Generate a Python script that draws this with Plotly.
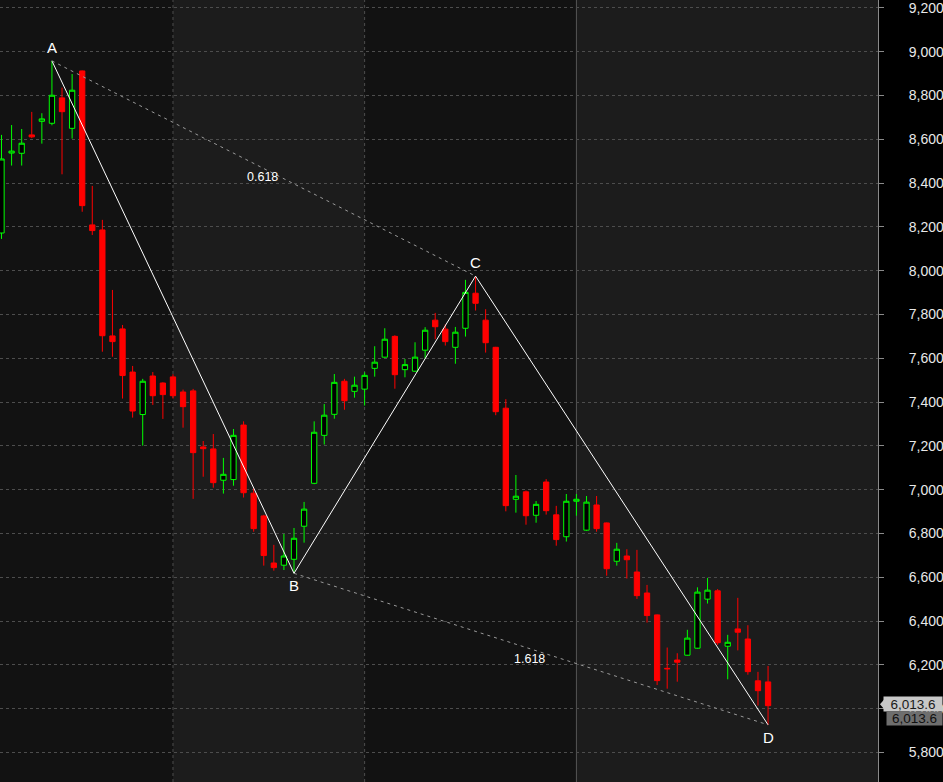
import plotly.graph_objects as go

# ---- data ----
opens = [8172, 8537, 8536, 8620, 8682, 8673, 8789, 8650, 8912, 8209,
         8186, 7702, 7734, 7537, 7343, 7519, 7487, 7515, 7446, 7451,
         7195, 7186, 7043, 7046, 7295, 6984, 6880, 6665, 6655, 6682,
         6833, 7029, 7248, 7344, 7495, 7449, 7459, 7554, 7605, 7700,
         7548, 7541, 7637, 7774, 7733, 7650, 7737, 7897, 7774, 7650,
         7372, 6956, 6990, 6883, 7035, 6885, 6785, 6947, 6815, 6930,
         6848, 6673, 6697, 6624, 6528, 6428, 6184, 6222, 6244, 6276,
         6500, 6538, 6285, 6364, 6318, 6127, 6122]
highs = [8620, 8665, 8647, 8725, 8719, 8958, 8836, 8898, 8914, 8387,
         8232, 7912, 7752, 7565, 7506, 7537, 7490, 7527, 7457, 7460,
         7222, 7254, 7145, 7277, 7312, 7005, 6885, 6748, 6798, 6825,
         6944, 7312, 7391, 7528, 7506, 7516, 7536, 7655, 7737, 7705,
         7597, 7673, 7742, 7807, 7755, 7743, 7958, 7975, 7824, 7652,
         7413, 7067, 6996, 6948, 7048, 6926, 6980, 6980, 6971, 6971,
         6850, 6757, 6728, 6725, 6565, 6430, 6279, 6253, 6360, 6554,
         6597, 6546, 6337, 6506, 6381, 6168, 6195]
lows = [8145, 8480, 8480, 8605, 8580, 8664, 8440, 8603, 8269, 8163,
        7630, 7607, 7416, 7329, 7201, 7387, 7323, 7416, 7283, 6958,
        7059, 7009, 6982, 7018, 6964, 6808, 6653, 6630, 6633, 6618,
        6758, 7025, 7206, 7324, 7365, 7420, 7384, 7516, 7603, 7461,
        7513, 7538, 7598, 7687, 7658, 7575, 7699, 7818, 7626, 7340,
        6901, 6895, 6840, 6849, 6886, 6744, 6763, 6881, 6812, 6808,
        6607, 6653, 6594, 6501, 6393, 6108, 6091, 6123, 6242, 6274,
        6480, 6291, 6134, 6266, 6155, 6014, 5926]
closes = [8510, 8546, 8582, 8611, 8693, 8801, 8726, 8824, 8297, 8183,
          7703, 7676, 7521, 7359, 7495, 7429, 7434, 7429, 7379, 7169,
          7187, 7032, 7070, 7248, 6986, 6822, 6699, 6644, 6697, 6778,
          6911, 7262, 7340, 7490, 7406, 7477, 7522, 7582, 7687, 7525,
          7571, 7605, 7728, 7744, 7676, 7719, 7901, 7851, 7671, 7356,
          6927, 6970, 6881, 6933, 6904, 6772, 6947, 6956, 6943, 6822,
          6639, 6728, 6680, 6516, 6425, 6128, 6182, 6212, 6322, 6532,
          6541, 6301, 6303, 6349, 6169, 6082, 6013.6]

pattern_names = ["A", "B", "C", "D"]
pattern_idx = [5, 29, 47, 76]
pattern_kind = ["high", "low", "high", "low"]
fib_labels = ["0.618", "1.618"]
period_starts = [17, 36, 57]
y_ticks = list(range(5800, 9201, 200))

# ---- styling ----
BULL = "#00ff00"
BEAR = "#ff0000"
DARK_BAND = "#121212"
LIGHT_BAND = "#1c1c1c"
GRID = "#4d4d4d"
FONT = "Liberation Sans, Arial, sans-serif"

n = len(closes)
xs = list(range(n))
x_range = [-0.149, 86.9]
y_range = [5665, 9236]

fig = go.Figure()

fig.add_trace(go.Candlestick(
    x=xs, open=opens, high=highs, low=lows, close=closes,
    increasing=dict(line=dict(color=BULL, width=1), fillcolor="#000000"),
    decreasing=dict(line=dict(color=BEAR, width=1), fillcolor=BEAR),
    whiskerwidth=0, showlegend=False, hoverinfo="skip",
))

# pattern points
px_ = [pattern_idx[i] for i in range(4)]
py_ = [highs[pattern_idx[i]] if pattern_kind[i] == "high" else lows[pattern_idx[i]]
       for i in range(4)]

# solid zig-zag A-B-C-D
fig.add_trace(go.Scatter(x=px_, y=py_, mode="lines",
                         line=dict(color="#ffffff", width=1),
                         showlegend=False, hoverinfo="skip"))
# dotted A-C and B-D
for a, b in [(0, 2), (1, 3)]:
    fig.add_trace(go.Scatter(x=[px_[a], px_[b]], y=[py_[a], py_[b]], mode="lines",
                             line=dict(color="#9a9a9a", width=1, dash="3px,4px"),
                             showlegend=False, hoverinfo="skip"))

# letter labels
shifts = [13, -12, 14, -13]
for i in range(4):
    fig.add_annotation(x=px_[i], y=py_[i], text=pattern_names[i], showarrow=False,
                       yshift=shifts[i], font=dict(family=FONT, size=15, color="#ffffff"),
                       xanchor="center", yanchor="middle")

# fib ratio labels at the midpoints of the dotted lines
for lab, (a, b), ys in zip(fib_labels, [(0, 2), (1, 3)], [-8, -10]):
    fig.add_annotation(x=(px_[a] + px_[b]) / 2 - 0.15, y=(py_[a] + py_[b]) / 2, text=lab,
                       showarrow=False, yshift=ys,
                       font=dict(family=FONT, size=12.5, color="#ffffff"),
                       xanchor="center", yanchor="middle")

# background bands
bounds = [x_range[0]] + period_starts + [x_range[1]]
shapes = []
for k in range(len(bounds) - 1):
    shapes.append(dict(type="rect", xref="x", yref="paper", x0=bounds[k], x1=bounds[k + 1],
                       y0=0, y1=1, fillcolor=(DARK_BAND if k % 2 == 0 else LIGHT_BAND),
                       line=dict(width=0), layer="below"))
for k, ps in enumerate(period_starts):
    solid = (k == len(period_starts) - 1)
    shapes.append(dict(type="line", xref="x", yref="paper", x0=ps, x1=ps, y0=0, y1=1,
                       line=dict(color="#555555" if solid else GRID, width=1,
                                 dash="solid" if solid else "dot"),
                       layer="between"))

# last price marker (arrow tab)
last = closes[-1]
u = (y_range[1] - y_range[0]) / 782.0  # price units per pixel
shapes.append(dict(type="path", xref="paper", yref="y",
                   path=(f"M {880/878:.5f},{last + 1.5*u} L {886/878:.5f},{last + 8.5*u} "
                         f"L {886/878:.5f},{last - 5.5*u} Z"),
                   fillcolor="#c8c8c8", line=dict(width=0), layer="above"))
fig.update_layout(shapes=shapes)

last_txt = f"{last:,.1f}"
fig.add_annotation(xref="paper", yref="y", x=943/878, y=last, text=last_txt,
                   showarrow=False, xanchor="right", yanchor="middle", yshift=1.5,
                   bgcolor="#c8c8c8", borderpad=0, width=58, height=14, align="center",
                   font=dict(family=FONT, size=13.5, color="#1a1a1a"))
fig.add_annotation(xref="paper", yref="y", x=943/878, y=last, text=last_txt,
                   showarrow=False, xanchor="right", yanchor="middle", yshift=-12.5,
                   bgcolor="#6e6e6e", borderpad=0, width=55, height=13, align="center",
                   font=dict(family=FONT, size=13.5, color="#111111"))

fig.update_layout(
    width=943, height=782,
    margin=dict(l=0, r=65, t=0, b=0, autoexpand=False),
    paper_bgcolor="#000000",
    plot_bgcolor=DARK_BAND,
    showlegend=False,
    boxgap=0.25,
    xaxis=dict(range=x_range, visible=False, rangeslider=dict(visible=False),
               showgrid=False, zeroline=False),
    yaxis=dict(range=y_range, side="right", tickvals=y_ticks,
               ticktext=[f"{v:,}" for v in y_ticks],
               showgrid=True, gridcolor=GRID, griddash="dot", gridwidth=1,
               zeroline=False, showline=True, linecolor="#8a8a8a", linewidth=1,
               ticks="outside", ticklen=5, tickcolor="#8a8a8a",
               ticklabelstandoff=22, ticklabeloverflow="allow",
               tickfont=dict(family=FONT, size=14, color="#e8e8e8")),
    font=dict(family=FONT),
)

fig.write_html("out.html", config={"displayModeBar": False},
               post_script="document.body.style.margin='0';document.body.style.background='#000';")
